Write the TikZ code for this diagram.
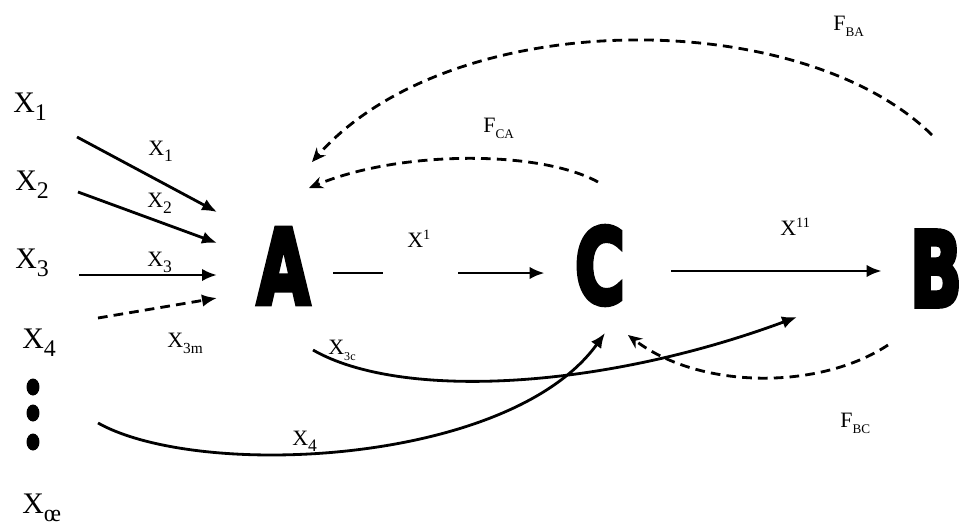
\documentclass[tikz,border=0pt]{standalone}
\usepackage{fontspec}
\usepackage{graphicx}
\setmainfont{Liberation Serif}
\newfontfamily\blockfont{DejaVu Sans Bold}[FakeBold=5]
\usetikzlibrary{arrows.meta}

\newcommand{\lo}[3][0.8]{#2\raisebox{-0.65ex}{\scalebox{#1}{#3}}}
\newcommand{\hi}[2]{#1\raisebox{0.75ex}{\scalebox{0.65}{#2}}}
\newcommand{\blk}[1]{\scalebox{0.66}[1]{\blockfont #1}}

\tikzstyle{big} = [font=\fontsize{17}{20}\selectfont, inner sep=0pt, anchor=base west]
\tikzstyle{lab} = [font=\fontsize{12.5}{15}\selectfont, inner sep=0pt, anchor=base west]
\tikzstyle{letter} = [font=\fontsize{59}{59}\selectfont, inner sep=0pt]
\tikzstyle{plain} = [line width=1.6pt]
\tikzstyle{flow} = [plain, -{Latex[length=3mm,width=2.5mm]}]
\tikzstyle{feedback} = [plain, -{Stealth[length=2.8mm,width=2.4mm]}, dash pattern=on 5.5pt off 3.5pt]

\begin{document}
\begin{tikzpicture}[x=0.02cm,y=-0.02cm]
  \useasboundingbox (0,0) rectangle (964,525);

  % the three stages
  \node[letter] (A) at (283.5,266) {\blk{A}};
  \node[letter] (C) at (600,265.5) {\blk{C}};
  \node[letter] (B) at (936,268.5) {\blk{B}};

  % inputs on the left
  \node[big] (X_1) at (13,112) {\lo{X}{1}};
  \node[big] (X_2) at (15,190) {\lo{X}{2}};
  \node[big] (X_3) at (15,268) {\lo{X}{3}};
  \node[big] (X_4) at (22,348) {\lo{X}{4}};
  \foreach \y in {387,413,442}
    \fill (33,\y) ellipse [x radius=0.13cm, y radius=0.17cm];
  \node[big] (X_oe) at (22,513) {\lo{X}{\oe}};

  % free ends of the connectors
  \coordinate (s_1) at (77,137);   \coordinate (in_1) at (217,212);
  \coordinate (s_2) at (78,192);   \coordinate (in_2) at (217,243);
  \coordinate (s_3) at (79,275);   \coordinate (in_3) at (217,275);
  \coordinate (s_3m) at (98,318);  \coordinate (in_3m) at (217,298);
  \coordinate (ac_1) at (383,273); \coordinate (ac_2) at (458,273);
  \coordinate (cb) at (650,271);
  \coordinate (s_3c) at (313,350); \coordinate (e_3c) at (797,317);
  \coordinate (s_4) at (98,423);   \coordinate (e_4) at (605,333);
  \coordinate (f_bc) at (888,345); \coordinate (e_bc) at (628,335);
  \coordinate (f_ca) at (598,182); \coordinate (e_ca) at (309,188);
  \coordinate (f_ba) at (932,135); \coordinate (e_ba) at (312,162);

  % into A
  \draw[flow] (s_1) -- (in_1);
  \draw[flow] (s_2) -- (in_2);
  \draw[flow] (s_3) -- (in_3);
  \draw[flow, dash pattern=on 5.5pt off 3.5pt] (s_3m) -- (in_3m);
  \node[lab] (l_1) at (148,155) {\lo{X}{1}};
  \node[lab] (l_2) at (147,207) {\lo{X}{2}};
  \node[lab] (l_3) at (147,266) {\lo{X}{3}};
  \node[lab] (l_3m) at (167,347) {\lo[0.7]{X}{3m}};

  % A -> C -> B
  \draw[plain, shorten <=0.46cm] (A.east |- ac_1) -- (ac_1);
  \draw[flow, shorten >=0.6cm] (ac_2) -- (C.west |- ac_2);
  \node[lab] (l_x1) at (407,247) {\hi{X}{1}};
  \draw[flow, shorten <=0.92cm, shorten >=0.56cm] (C.east |- cb) -- (B.west |- cb);
  \node[lab] (l_x11) at (780,235) {\hi{X}{11}};

  % bypass flows
  \draw[flow] (s_3c) .. controls (400,400) and (600,390) .. (e_3c);
  \node[lab] (l_3c) at (328,354) {\lo[0.55]{X}{3c}};
  \draw[flow] (s_4) .. controls (200,480) and (510,465) .. (e_4);
  \node[lab] (l_4) at (292,445) {\lo{X}{4}};

  % feedback
  \draw[feedback] (f_bc) .. controls (820,390) and (700,390) .. (e_bc);
  \node[lab] (F_BC) at (840,427) {\lo[0.6]{F}{BC}};
  \draw[feedback] (f_ca) .. controls (540,150) and (400,150) .. (e_ca);
  \node[lab] (F_CA) at (483,132) {\lo[0.6]{F}{CA}};
  \draw[feedback] (f_ba) .. controls (800,5) and (450,5) .. (e_ba);
  \node[lab] (F_BA) at (833,30) {\lo[0.6]{F}{BA}};
\end{tikzpicture}
\end{document}
